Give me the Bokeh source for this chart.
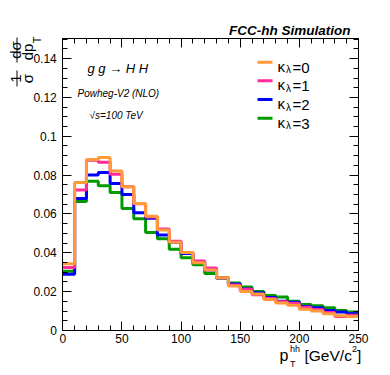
import math
from bokeh.plotting import figure
from bokeh.models import (Range1d, LinearAxis, FixedTicker, CustomJSTickFormatter,
                          Label, Arrow)
from bokeh.embed import file_html
from bokeh.resources import INLINE

# ---------------- data ----------------
bin_edges = [0, 10, 20, 30, 40, 50, 60, 70, 80, 90, 100, 110, 120, 130, 140, 150,
             160, 170, 180, 190, 200, 210, 220, 230, 240, 250]

kl0 = [0.0344, 0.0762, 0.0881, 0.0891, 0.0821, 0.0740, 0.0654, 0.0588, 0.0518, 0.0455,
       0.0401, 0.0349, 0.0312, 0.0272, 0.0229, 0.0201, 0.0188, 0.0160, 0.0141, 0.0130,
       0.0110, 0.0100, 0.0086, 0.0076, 0.0072]
kl1 = [0.0325, 0.0724, 0.0876, 0.0866, 0.0804, 0.0740, 0.0652, 0.0585, 0.0523, 0.0459,
       0.0402, 0.0358, 0.0322, 0.0272, 0.0234, 0.0212, 0.0184, 0.0165, 0.0148, 0.0140,
       0.0120, 0.0108, 0.0093, 0.0072, 0.0079]
kl2 = [0.0289, 0.0680, 0.0800, 0.0814, 0.0757, 0.0700, 0.0606, 0.0578, 0.0492, 0.0455,
       0.0396, 0.0351, 0.0311, 0.0270, 0.0239, 0.0214, 0.0195, 0.0170, 0.0151, 0.0146,
       0.0124, 0.0117, 0.0103, 0.0095, 0.0086]
kl3 = [0.0305, 0.0664, 0.0769, 0.0745, 0.0711, 0.0628, 0.0576, 0.0504, 0.0473, 0.0418,
       0.0375, 0.0339, 0.0293, 0.0270, 0.0244, 0.0224, 0.0201, 0.0180, 0.0172, 0.0151,
       0.0134, 0.0127, 0.0117, 0.0103, 0.0095]

series_names = ["0", "1", "2", "3"]
series_values = [kl0, kl1, kl2, kl3]
series_colors = ["#ff9a3a", "#ff2a9c", "#0000ff", "#009a00"]

x_ticks = [0, 50, 100, 150, 200, 250]
x_minor_ticks = bin_edges
y_ticks = [0, 0.02, 0.04, 0.06, 0.08, 0.10, 0.12, 0.14]
y_minor_ticks = [i * 0.005 for i in range(31)]

X_MIN, X_MAX = 0, 250
Y_MIN, Y_MAX = 0, 0.1505

FONT = "Liberation Sans"

# ---------------- layout geometry (pixels on the canvas) ----------------
W, H = 390, 375
FRAME_L, FRAME_R = 62.3, 358.0      # pixel x of X_MIN / X_MAX
FRAME_B, FRAME_T = 330.0, 37.7      # pixel y (from top) of Y_MIN / Y_MAX

sx = (FRAME_R - FRAME_L) / (X_MAX - X_MIN)
sy = (FRAME_B - FRAME_T) / (Y_MAX - Y_MIN)
x_lo = X_MIN - FRAME_L / sx
x_hi = X_MAX + (W - FRAME_R) / sx
y_lo = Y_MIN - (H - FRAME_B) / sy
y_hi = Y_MAX + FRAME_T / sy

p = figure(width=W, height=H, x_range=Range1d(x_lo, x_hi), y_range=Range1d(y_lo, y_hi),
           output_backend="svg", toolbar_location=None,
           min_border_left=0, min_border_right=0, min_border_top=0, min_border_bottom=0)
p.title.visible = False
p.background_fill_color = "white"
p.border_fill_color = "white"
p.outline_line_color = None
p.xgrid.visible = False
p.ygrid.visible = False


def style_axis(ax, show_labels):
    ax.axis_line_color = "black"
    ax.axis_line_width = 1
    ax.major_tick_line_color = "black"
    ax.minor_tick_line_color = "black"
    ax.major_tick_in = 9
    ax.major_tick_out = 0
    ax.minor_tick_in = 5
    ax.minor_tick_out = 0
    ax.major_label_text_font = FONT
    ax.major_label_text_color = "black"
    ax.major_label_text_font_size = "12px"
    if not show_labels:
        ax.formatter = CustomJSTickFormatter(code="return '';")


xax = p.xaxis[0]
xax.ticker = FixedTicker(ticks=x_ticks, minor_ticks=x_minor_ticks)
xax.fixed_location = Y_MIN
xax.bounds = (X_MIN, X_MAX)
style_axis(xax, True)
xax.major_label_standoff = 3

yax = p.yaxis[0]
yax.ticker = FixedTicker(ticks=y_ticks, minor_ticks=y_minor_ticks)
yax.fixed_location = X_MIN
yax.bounds = (Y_MIN, Y_MAX)
style_axis(yax, True)
yax.major_label_standoff = 6
yax.formatter = CustomJSTickFormatter(
    code="var s = tick.toFixed(2); s = s.replace(/0+$/, ''); s = s.replace(/\\.$/, ''); return s;")

top_ax = LinearAxis(ticker=FixedTicker(ticks=x_ticks, minor_ticks=x_minor_ticks),
                    fixed_location=Y_MAX, bounds=(X_MIN, X_MAX))
style_axis(top_ax, False)
p.add_layout(top_ax, "above")
right_ax = LinearAxis(ticker=FixedTicker(ticks=y_ticks, minor_ticks=y_minor_ticks),
                      fixed_location=X_MAX, bounds=(Y_MIN, Y_MAX))
style_axis(right_ax, False)
p.add_layout(right_ax, "right")

# ---------------- histograms ----------------
draw_order = [3, 2, 1, 0]
for i in draw_order:
    vals = series_values[i]
    p.step(x=bin_edges, y=vals + [vals[-1]], mode="after",
           line_width=3, line_color=series_colors[i])


# ---------------- texts (canvas pixels, y measured from the top) ----------------
def lab(px, py, text, size, style="normal", align="left", baseline="alphabetic", angle=0.0):
    p.add_layout(Label(x=px, y=H - py, x_units="screen", y_units="screen", text=text,
                       text_font=FONT, text_font_size=size, text_font_style=style,
                       text_align=align, text_baseline=baseline, angle=angle,
                       text_color="black"))


def seg(px0, py0, px1, py1, color, width):
    p.add_layout(Arrow(x_start=px0, y_start=H - py0, x_end=px1, y_end=H - py1,
                       start_units="screen", end_units="screen",
                       start=None, end=None, line_color=color, line_width=width))


lab(350, 29.5, "FCC-hh Simulation", "13.5px", "bold italic", align="right")
lab(87, 67.5, "g g \u2192 H H", "13px", "italic")
lab(77, 93, "Powheg-V2 (NLO)", "10px", "italic")
lab(89, 115, "\u221as=100 TeV", "10px", "italic")

# legend
leg_top = 61.7
leg_step = 18.67
for k, (name, col) in enumerate(zip(series_names, series_colors)):
    cy = leg_top + k * leg_step
    seg(257, cy, 272, cy, col, 3)
    lab(277, cy + 4, "\u03ba", "15px")
    lab(285.5, cy + 7.5, "\u03bb", "10px")
    lab(292, cy + 5, "=" + name, "15px")

# x axis title
lab(279, 355, "p", "16px")
lab(289.5, 348, "hh", "9px")
lab(289.5, 363, "T", "9px")
lab(304, 355, "[GeV/c", "15.5px")
lab(351.5, 348, "2", "9px")
lab(356.5, 355, "]", "15.5px")

# y axis title (rotated fractions)
ang = math.pi / 2
lab(15, 49.5, "d\u03c3", "15px", align="center", baseline="alphabetic", angle=ang)
lab(18, 51.5, "dp", "15px", align="center", baseline="top", angle=ang)
lab(30.5, 39.5, "T", "11px", align="center", baseline="top", angle=ang)
lab(15, 78, "1", "15px", align="center", baseline="alphabetic", angle=ang)
lab(18, 78, "\u03c3", "15px", align="center", baseline="top", angle=ang)
seg(16.5, 37, 16.5, 62, "black", 1)
seg(16.5, 70, 16.5, 86, "black", 1)

open("out.html", "w").write(file_html(p, INLINE))
